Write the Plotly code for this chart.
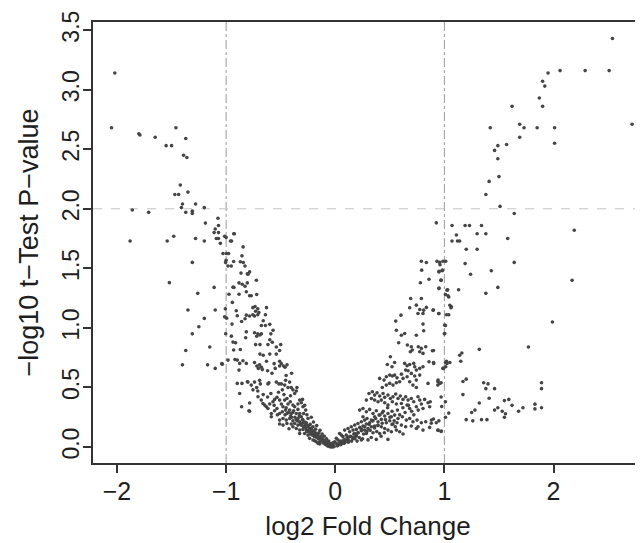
import plotly.graph_objects as go

# ---- data: (log2 fold change, -log10 p) ----
left_outliers = [
    (-2.02, 3.14), (-2.05, 2.68), (-1.80, 2.63), (-1.79, 2.62), (-1.65, 2.60), (-1.46, 2.68),
    (-1.37, 2.59), (-1.55, 2.53), (-1.50, 2.53), (-1.39, 2.45), (-1.36, 2.43), (-1.42, 2.20),
    (-1.47, 2.12), (-1.435, 2.12), (-1.35, 2.14), (-1.40, 2.04), (-1.41, 2.01), (-1.28, 2.04),
    (-1.37, 1.97), (-1.31, 1.98), (-1.31, 1.96), (-1.20, 2.01), (-1.86, 1.99), (-1.71, 1.97),
    (-1.19, 1.88), (-1.075, 1.92), (-1.07, 1.86), (-1.10, 1.83), (-1.11, 1.80), (-1.07, 1.80),
    (-1.48, 1.77), (-1.28, 1.75), (-1.09, 1.75), (-1.07, 1.75), (-1.053, 1.71), (-1.014, 1.77),
    (-1.0, 1.76), (-1.88, 1.73), (-1.54, 1.73), (-1.20, 1.73), (-1.31, 1.55), (-1.52, 1.38),
    (-1.26, 1.29), (-1.11, 1.34), (-1.35, 1.15), (-1.10, 1.15), (-1.20, 1.08), (-1.25, 1.01),
    (-1.31, 0.95), (-1.15, 0.84), (-1.37, 0.81), (-1.40, 0.69), (-1.17, 0.69), (-1.10, 0.66),
    (-1.04, 0.70),
]

left_near_line = [
    (-1.029, 1.625), (-0.998, 1.625), (-0.977, 1.625), (-1.0, 1.568), (-1.005, 1.55), (-0.983, 1.52),
    (-0.953, 1.52), (-0.931, 1.557), (-0.87, 1.555), (-0.843, 1.549), (-0.827, 1.52), (-0.855, 1.605),
    (-0.845, 1.68), (-0.806, 1.454), (-0.864, 1.46), (-0.882, 1.378), (-0.852, 1.367), (-0.827, 1.35),
    (-0.806, 1.378), (-0.937, 1.342), (-0.928, 1.339), (-0.974, 1.283), (-0.882, 1.283), (-0.815, 1.303),
    (-0.943, 1.214), (-1.007, 1.16), (-1.014, 1.093), (-0.995, 1.082), (-0.907, 1.144), (-0.898, 1.102),
    (-0.858, 1.054), (-0.827, 1.077), (-0.815, 1.107), (-0.946, 1.032), (-1.004, 0.951), (-0.952, 0.931),
    (-0.937, 0.881), (-0.913, 0.875), (-0.815, 0.967), (-0.821, 0.917), (-0.931, 0.814), (-0.87, 0.819),
    (-0.919, 0.735), (-0.898, 0.73), (-0.876, 0.702), (-0.846, 0.724), (-0.815, 0.702), (-0.983, 0.73),
    (-1.035, 0.696), (-0.882, 0.646), (-0.898, 0.534), (-0.855, 0.534), (-0.806, 0.548), (-0.876, 0.45),
    (-0.858, 0.338), (-0.791, 0.305), (-0.93, 1.79), (-0.95, 1.73), (-0.96, 1.73), (-0.925, 1.79),
]

left_arm_upper = [
    (-0.785, 1.47), (-0.80, 1.45), (-0.723, 1.40), (-0.785, 1.27), (-0.77, 1.27), (-0.72, 1.28),
    (-0.755, 1.17), (-0.735, 1.18), (-0.71, 1.16), (-0.63, 1.17), (-0.73, 1.14), (-0.70, 1.13),
    (-0.755, 1.11), (-0.785, 1.10), (-0.74, 1.10), (-0.71, 1.11), (-0.64, 1.11), (-0.677, 1.02),
    (-0.64, 1.02), (-0.60, 1.03), (-0.59, 0.95), (-0.74, 0.96), (-0.71, 0.95), (-0.69, 0.94),
    (-0.677, 0.95), (-0.72, 0.93), (-0.73, 0.86), (-0.69, 0.86), (-0.617, 0.86), (-0.577, 0.88),
    (-0.54, 0.84), (-0.50, 0.86), (-0.51, 0.81), (-0.54, 0.78), (-0.60, 0.78), (-0.69, 0.78),
    (-0.66, 0.77), (-0.74, 0.71), (-0.718, 0.68), (-0.693, 0.69), (-0.705, 0.66), (-0.677, 0.67),
    (-0.668, 0.65), (-0.51, 0.72), (-0.494, 0.70), (-0.473, 0.68), (-0.442, 0.69), (-0.46, 0.67),
    (-0.51, 0.68), (-0.80, 0.545), (-0.77, 0.52), (-0.74, 0.545), (-0.693, 0.56), (-0.687, 0.53),
    (-0.72, 0.50), (-0.754, 0.48), (-0.71, 0.47), (-0.617, 0.53), (-0.608, 0.54), (-0.54, 0.545),
    (-0.516, 0.53), (-0.494, 0.53), (-0.464, 0.52), (-0.455, 0.56), (-0.418, 0.545), (-0.433, 0.50),
    (-0.485, 0.48), (-0.403, 0.50), (-0.388, 0.48), (-0.357, 0.47), (-0.372, 0.45), (-0.351, 0.50),
    (-0.785, 0.37), (-0.785, 0.30), (-0.62, 0.64), (-0.58, 0.62), (-0.56, 0.70), (-0.63, 0.72),
    (-0.57, 0.98), (-0.66, 1.06), (-0.60, 0.90), (-0.55, 0.66), (-0.40, 0.62), (-0.45, 0.60),
]

left_arm_lower = [
    (-0.708, 0.422), (-0.678, 0.394), (-0.663, 0.366), (-0.647, 0.352), (-0.632, 0.338), (-0.601, 0.361),
    (-0.571, 0.380), (-0.556, 0.400), (-0.534, 0.417), (-0.510, 0.394), (-0.494, 0.361), (-0.464, 0.394),
    (-0.443, 0.408), (-0.433, 0.361), (-0.412, 0.380), (-0.388, 0.352), (-0.372, 0.338), (-0.342, 0.361),
    (-0.326, 0.394), (-0.311, 0.372), (-0.296, 0.338), (-0.617, 0.324), (-0.586, 0.282), (-0.556, 0.305),
    (-0.534, 0.324), (-0.510, 0.282), (-0.485, 0.296), (-0.479, 0.338), (-0.455, 0.310), (-0.443, 0.282),
    (-0.418, 0.310), (-0.403, 0.282), (-0.381, 0.305), (-0.357, 0.282), (-0.342, 0.316), (-0.326, 0.282),
    (-0.311, 0.254), (-0.290, 0.282), (-0.271, 0.310), (-0.586, 0.254), (-0.510, 0.226), (-0.479, 0.240),
    (-0.449, 0.226), (-0.418, 0.240), (-0.388, 0.221), (-0.357, 0.232), (-0.326, 0.212), (-0.296, 0.226),
    (-0.265, 0.204), (-0.250, 0.240), (-0.424, 0.154), (-0.388, 0.170), (-0.357, 0.156), (-0.326, 0.142),
    (-0.296, 0.148), (-0.265, 0.142), (-0.235, 0.156), (-0.204, 0.170), (-0.326, 0.114), (-0.281, 0.114),
    (-0.250, 0.100), (-0.219, 0.114), (-0.189, 0.087), (-0.189, 0.053), (-0.158, 0.073), (-0.143, 0.045),
    (-0.128, 0.059), (-0.113, 0.036), (-0.097, 0.025), (-0.082, 0.017), (-0.067, 0.008), (-0.051, 0.003),
    (-0.036, 0.0), (-0.021, 0.0), (-0.235, 0.073), (-0.204, 0.059), (-0.174, 0.045), (-0.158, 0.031),
    (-0.143, 0.025), (-0.510, 0.193), (-0.479, 0.184), (-0.443, 0.198), (-0.403, 0.193), (-0.372, 0.198),
    (-0.342, 0.184), (-0.311, 0.184), (-0.281, 0.176), (-0.250, 0.170), (-0.219, 0.142), (-0.189, 0.128),
    (-0.174, 0.114), (-0.235, 0.128), (-0.204, 0.100), (-0.158, 0.100), (-0.128, 0.081), (-0.113, 0.064),
    (-0.097, 0.053), (-0.082, 0.042), (-0.067, 0.031), (-0.051, 0.022), (-0.036, 0.014), (-0.62, 0.42),
    (-0.66, 0.44), (-0.59, 0.45), (-0.52, 0.46), (-0.47, 0.44), (-0.41, 0.43), (-0.30, 0.40),
    (-0.28, 0.35), (-0.26, 0.27), (-0.22, 0.25), (-0.20, 0.21), (-0.17, 0.18), (-0.14, 0.14),
    (-0.12, 0.11), (-0.10, 0.09), (-0.08, 0.07), (-0.06, 0.05), (-0.04, 0.03), (-0.02, 0.02),
    (-0.56, 0.35), (-0.53, 0.27), (-0.46, 0.27), (-0.40, 0.25), (-0.34, 0.24), (-0.30, 0.20),
    (-0.27, 0.19), (-0.23, 0.19), (-0.21, 0.14), (-0.18, 0.15), (-0.15, 0.12), (-0.13, 0.09),
]

core_dense = [
    (-0.45, 0.33), (-0.43, 0.29), (-0.41, 0.26), (-0.39, 0.29), (-0.37, 0.25), (-0.35, 0.22),
    (-0.33, 0.26), (-0.32, 0.19), (-0.30, 0.23), (-0.29, 0.17), (-0.28, 0.21), (-0.27, 0.16),
    (-0.26, 0.13), (-0.25, 0.18), (-0.24, 0.14), (-0.23, 0.11), (-0.22, 0.16), (-0.21, 0.10),
    (-0.20, 0.12), (-0.19, 0.10), (-0.18, 0.11), (-0.17, 0.08), (-0.16, 0.09), (-0.15, 0.07),
    (-0.14, 0.08), (-0.13, 0.06), (-0.12, 0.07), (-0.11, 0.05), (-0.10, 0.04), (-0.09, 0.05),
    (-0.08, 0.04), (-0.07, 0.02), (-0.06, 0.03), (-0.05, 0.01), (-0.04, 0.02), (-0.03, 0.01),
    (-0.01, 0.005), (0.01, 0.03), (0.03, 0.02), (0.05, 0.05), (0.06, 0.03), (0.08, 0.06),
    (0.09, 0.04), (0.11, 0.08), (0.12, 0.06), (0.14, 0.09), (0.16, 0.07), (0.17, 0.11),
    (0.19, 0.09), (0.21, 0.12), (0.22, 0.08), (0.24, 0.15), (0.26, 0.11), (0.27, 0.17),
    (0.29, 0.13), (0.31, 0.19), (0.32, 0.14), (0.34, 0.22), (0.36, 0.16), (0.37, 0.24),
    (0.39, 0.18), (0.41, 0.27), (0.43, 0.20), (0.44, 0.30), (0.46, 0.23), (0.48, 0.33),
    (0.50, 0.25), (0.52, 0.30), (0.54, 0.22), (0.57, 0.31), (0.59, 0.27), (0.62, 0.33),
    (0.64, 0.29), (0.67, 0.35), (0.70, 0.30), (0.72, 0.27), (0.76, 0.31),
]

right_arm = [
    (0.926, 1.882), (0.789, 1.560), (0.835, 1.549), (0.932, 1.56), (0.957, 1.55), (0.987, 1.56),
    (1.012, 1.56), (0.792, 1.485), (0.951, 1.476), (0.981, 1.485), (0.969, 1.401), (0.859, 1.409),
    (0.780, 1.379), (0.951, 1.334), (1.024, 1.317), (1.033, 1.269), (1.064, 1.177), (0.691, 1.247),
    (0.789, 1.247), (0.682, 1.169), (0.743, 1.191), (0.774, 1.155), (0.810, 1.149), (0.835, 1.172),
    (0.758, 1.121), (0.804, 1.121), (0.896, 1.149), (0.948, 1.121), (0.602, 1.107), (0.554, 1.057),
    (0.804, 1.032), (0.560, 0.981), (0.606, 0.939), (0.636, 0.953), (0.743, 0.939), (0.810, 0.976),
    (1.003, 1.023), (1.003, 0.953), (0.581, 0.875), (0.661, 0.856), (0.697, 0.842), (0.688, 0.800),
    (0.706, 0.814), (0.761, 0.842), (0.789, 0.828), (0.829, 0.842), (0.774, 0.800), (0.804, 0.786),
    (0.890, 0.808), (0.505, 0.758), (0.477, 0.693), (0.520, 0.674), (0.544, 0.710), (0.636, 0.702),
    (0.658, 0.682), (0.682, 0.693), (0.719, 0.702), (0.728, 0.674), (0.645, 0.646), (0.667, 0.640),
    (0.697, 0.618), (0.743, 0.646), (0.774, 0.660), (0.804, 0.674), (0.859, 0.716), (0.902, 0.702),
    (1.024, 0.702), (1.012, 0.674), (0.987, 0.660), (0.407, 0.576), (0.447, 0.562), (0.468, 0.590),
    (0.499, 0.604), (0.523, 0.596), (0.544, 0.604), (0.566, 0.581), (0.606, 0.612), (0.621, 0.576),
    (0.590, 0.548), (0.560, 0.540), (0.529, 0.520), (0.499, 0.534), (0.468, 0.520), (0.431, 0.500),
    (0.658, 0.590), (0.682, 0.548), (0.728, 0.596), (0.743, 0.562), (0.774, 0.604), (0.712, 0.520),
    (0.743, 0.500), (0.850, 0.534), (0.942, 0.562), (0.957, 0.534),
]

right_arm_lower = [
    (0.309, 0.450), (0.340, 0.464), (0.361, 0.436), (0.383, 0.456), (0.407, 0.428), (0.438, 0.450),
    (0.453, 0.417), (0.483, 0.436), (0.505, 0.408), (0.529, 0.422), (0.554, 0.445), (0.575, 0.408),
    (0.596, 0.428), (0.621, 0.400), (0.645, 0.422), (0.667, 0.394), (0.697, 0.408), (0.719, 0.380),
    (0.758, 0.422), (0.774, 0.394), (0.789, 0.361), (0.819, 0.400), (0.850, 0.372), (0.865, 0.338),
    (0.804, 0.324), (0.743, 0.338), (0.682, 0.324), (0.658, 0.352), (0.606, 0.366), (0.560, 0.361),
    (0.523, 0.380), (0.483, 0.352), (0.453, 0.372), (0.422, 0.394), (0.392, 0.380), (0.361, 0.394),
    (0.331, 0.408), (0.285, 0.394), (0.224, 0.310), (0.254, 0.324), (0.285, 0.296), (0.315, 0.316),
    (0.346, 0.282), (0.376, 0.305), (0.401, 0.268), (0.431, 0.288), (0.453, 0.260), (0.483, 0.282),
    (0.514, 0.254), (0.544, 0.268), (0.575, 0.240), (0.615, 0.254), (0.651, 0.226), (0.682, 0.240),
    (0.712, 0.212), (0.749, 0.226), (0.789, 0.204), (0.829, 0.212), (0.881, 0.226), (0.926, 0.204),
    (0.254, 0.254), (0.291, 0.240), (0.331, 0.226), (0.361, 0.254), (0.392, 0.212), (0.422, 0.232),
    (0.468, 0.204), (0.499, 0.221), (0.529, 0.193), (0.566, 0.204), (0.606, 0.184), (0.645, 0.170),
    (0.697, 0.176), (0.743, 0.156), (0.804, 0.142), (0.865, 0.165), (0.942, 0.142), (0.972, 0.134),
    (0.086, 0.142), (0.117, 0.156), (0.147, 0.170), (0.178, 0.184), (0.208, 0.198), (0.239, 0.212),
    (0.269, 0.226), (0.132, 0.128), (0.163, 0.142), (0.193, 0.148), (0.224, 0.165), (0.254, 0.176),
    (0.285, 0.193), (0.315, 0.204), (0.346, 0.221), (0.178, 0.114), (0.208, 0.120), (0.239, 0.137),
    (0.269, 0.142), (0.300, 0.156), (0.331, 0.170), (0.361, 0.176), (0.392, 0.184), (0.422, 0.170),
    (0.453, 0.156), (0.483, 0.142), (0.514, 0.128), (0.239, 0.059), (0.376, 0.064), (0.483, 0.064),
    (0.621, 0.109), (0.758, 0.170), (0.040, 0.114), (0.056, 0.100), (0.071, 0.087), (0.010, 0.073),
    (0.025, 0.059), (-0.005, 0.045), (-0.021, 0.036), (0.101, 0.100), (0.132, 0.087), (0.163, 0.081),
    (0.193, 0.100), (0.285, 0.114), (0.346, 0.120), (0.407, 0.114), (0.560, 0.142), (0.590, 0.128),
    (0.05, 0.02), (0.08, 0.03), (0.12, 0.04), (0.15, 0.05), (0.20, 0.05), (0.25, 0.07),
    (0.30, 0.06), (0.10, 0.06), (0.18, 0.07), (0.02, 0.01), (0.04, 0.04), (0.07, 0.05),
    (0.33, 0.08), (0.42, 0.09), (0.45, 0.12), (0.55, 0.17), (0.52, 0.19), (0.38, 0.13),
]

right_outliers = [
    (2.54, 3.43), (2.06, 3.16), (2.29, 3.16), (2.51, 3.16), (1.95, 3.14), (1.90, 3.07),
    (1.92, 3.03), (1.87, 2.93), (1.90, 2.86), (1.62, 2.86), (2.72, 2.71), (1.69, 2.71),
    (1.42, 2.68), (1.73, 2.68), (1.85, 2.68), (2.01, 2.68), (1.69, 2.60), (2.01, 2.55),
    (1.57, 2.54), (1.49, 2.53), (1.46, 2.49), (1.49, 2.42), (1.50, 2.27), (1.41, 2.23),
    (1.38, 2.12), (1.51, 2.02), (1.64, 1.96), (1.07, 1.86), (1.19, 1.86), (1.23, 1.86),
    (1.34, 1.86), (1.11, 1.78), (1.30, 1.79), (1.38, 1.79), (2.19, 1.82), (1.58, 1.75),
    (1.07, 1.73), (1.12, 1.73), (1.14, 1.73), (1.20, 1.66), (1.30, 1.66), (1.64, 1.55),
    (1.19, 1.54), (1.43, 1.48), (1.24, 1.45), (2.17, 1.40), (1.13, 1.32), (1.49, 1.34),
    (1.38, 1.29), (1.03, 1.32), (1.01, 1.28), (1.04, 1.26), (1.05, 1.19), (1.06, 1.17),
    (1.02, 1.11), (1.04, 1.11), (1.99, 1.05), (1.01, 1.02), (1.00, 0.95), (1.77, 0.84),
    (1.32, 0.82), (1.16, 0.79), (1.14, 0.77), (1.15, 0.72), (1.02, 0.72), (1.01, 0.71),
    (1.05, 0.71), (0.99, 0.66), (1.17, 0.55), (1.20, 0.57), (1.36, 0.54), (1.40, 0.53),
    (1.38, 0.49), (1.46, 0.49), (1.89, 0.54), (1.89, 0.49), (1.17, 0.44), (1.41, 0.41),
    (1.32, 0.37), (1.55, 0.39), (1.59, 0.40), (1.62, 0.35), (1.83, 0.36), (1.46, 0.31),
    (1.49, 0.33), (1.53, 0.30), (1.56, 0.28), (1.55, 0.25), (1.68, 0.30), (1.72, 0.33),
    (1.83, 0.32), (1.89, 0.33), (1.25, 0.29), (1.28, 0.31), (1.20, 0.23), (1.26, 0.22),
    (1.34, 0.23), (1.39, 0.23), (1.04, 0.285), (1.01, 0.25), (0.94, 0.14), (0.97, 0.13),
    (0.95, 0.22), (0.90, 0.235), (0.88, 0.20), (0.975, 0.34), (1.01, 0.38), (0.97, 0.42),
    (0.94, 0.55), (0.94, 0.52), (0.97, 0.54), (0.90, 0.71), (0.90, 0.81), (0.90, 1.15),
    (0.95, 1.12), (0.95, 1.33), (0.97, 1.40), (0.95, 1.47), (0.98, 1.48), (0.96, 1.53),
    (0.87, 0.38),
]

x_ticks = [-2, -1, 0, 1, 2]
y_ticks = [0.0, 0.5, 1.0, 1.5, 2.0, 2.5, 3.0, 3.5]
fc_cutoffs = [-1, 1]
p_cutoff = 2.0

groups = [left_outliers, left_near_line, left_arm_upper, left_arm_lower, core_dense,
          right_arm, right_arm_lower, right_outliers]
xs = [p[0] for g in groups for p in g]
ys = [p[1] for g in groups for p in g]

FONT = "Liberation Sans, Arial, Helvetica, sans-serif"
TXT = "#1e1e1e"

fig = go.Figure()
fig.add_trace(go.Scatter(
    x=xs, y=ys, mode="markers",
    marker=dict(size=3.6, color="#454545", line=dict(width=0)),
    hoverinfo="skip", showlegend=False,
))

for xv in fc_cutoffs:
    fig.add_shape(type="line", xref="x", yref="paper", x0=xv, x1=xv, y0=0, y1=1,
                  line=dict(color="#9a9a9a", width=1, dash="dashdot"), layer="below")
fig.add_shape(type="line", xref="paper", yref="y", x0=0, x1=1, y0=p_cutoff, y1=p_cutoff,
              line=dict(color="#c4c4c4", width=1, dash="dash"), layer="below")

# the page body adds an 8px offset, so the figure is sized to fit inside the window
fig.update_layout(
    width=635, height=535,
    margin=dict(l=85, r=0, t=14, b=80),
    paper_bgcolor="white", plot_bgcolor="white",
    font=dict(family=FONT, size=24, color=TXT),
    xaxis=dict(
        range=[-2.22, 2.82], tickvals=x_ticks, ticks="outside", ticklen=8, tickwidth=1.5,
        tickcolor="#333", showline=True, linecolor="#333", linewidth=1.8, mirror=True,
        showgrid=False, zeroline=False, automargin=False, ticklabelstandoff=-3,
        tickfont=dict(size=25, family=FONT, color=TXT),
        title=dict(text="log2 Fold Change", font=dict(size=26, family=FONT, color=TXT), standoff=13),
    ),
    yaxis=dict(
        range=[-0.134, 3.568], tickvals=y_ticks, tickformat=".1f", tickangle=-90,
        ticks="outside", ticklen=8, tickwidth=1.5, tickcolor="#333",
        showline=True, linecolor="#333", linewidth=1.8, mirror=False,
        showgrid=False, zeroline=False, automargin=False, ticklabelstandoff=-5,
        tickfont=dict(size=23, family=FONT, color=TXT),
        title=dict(text="\u2212log10 t\u2212Test P\u2212value", font=dict(size=27, family=FONT, color=TXT), standoff=11),
    ),
)

fig.write_html("out.html")
